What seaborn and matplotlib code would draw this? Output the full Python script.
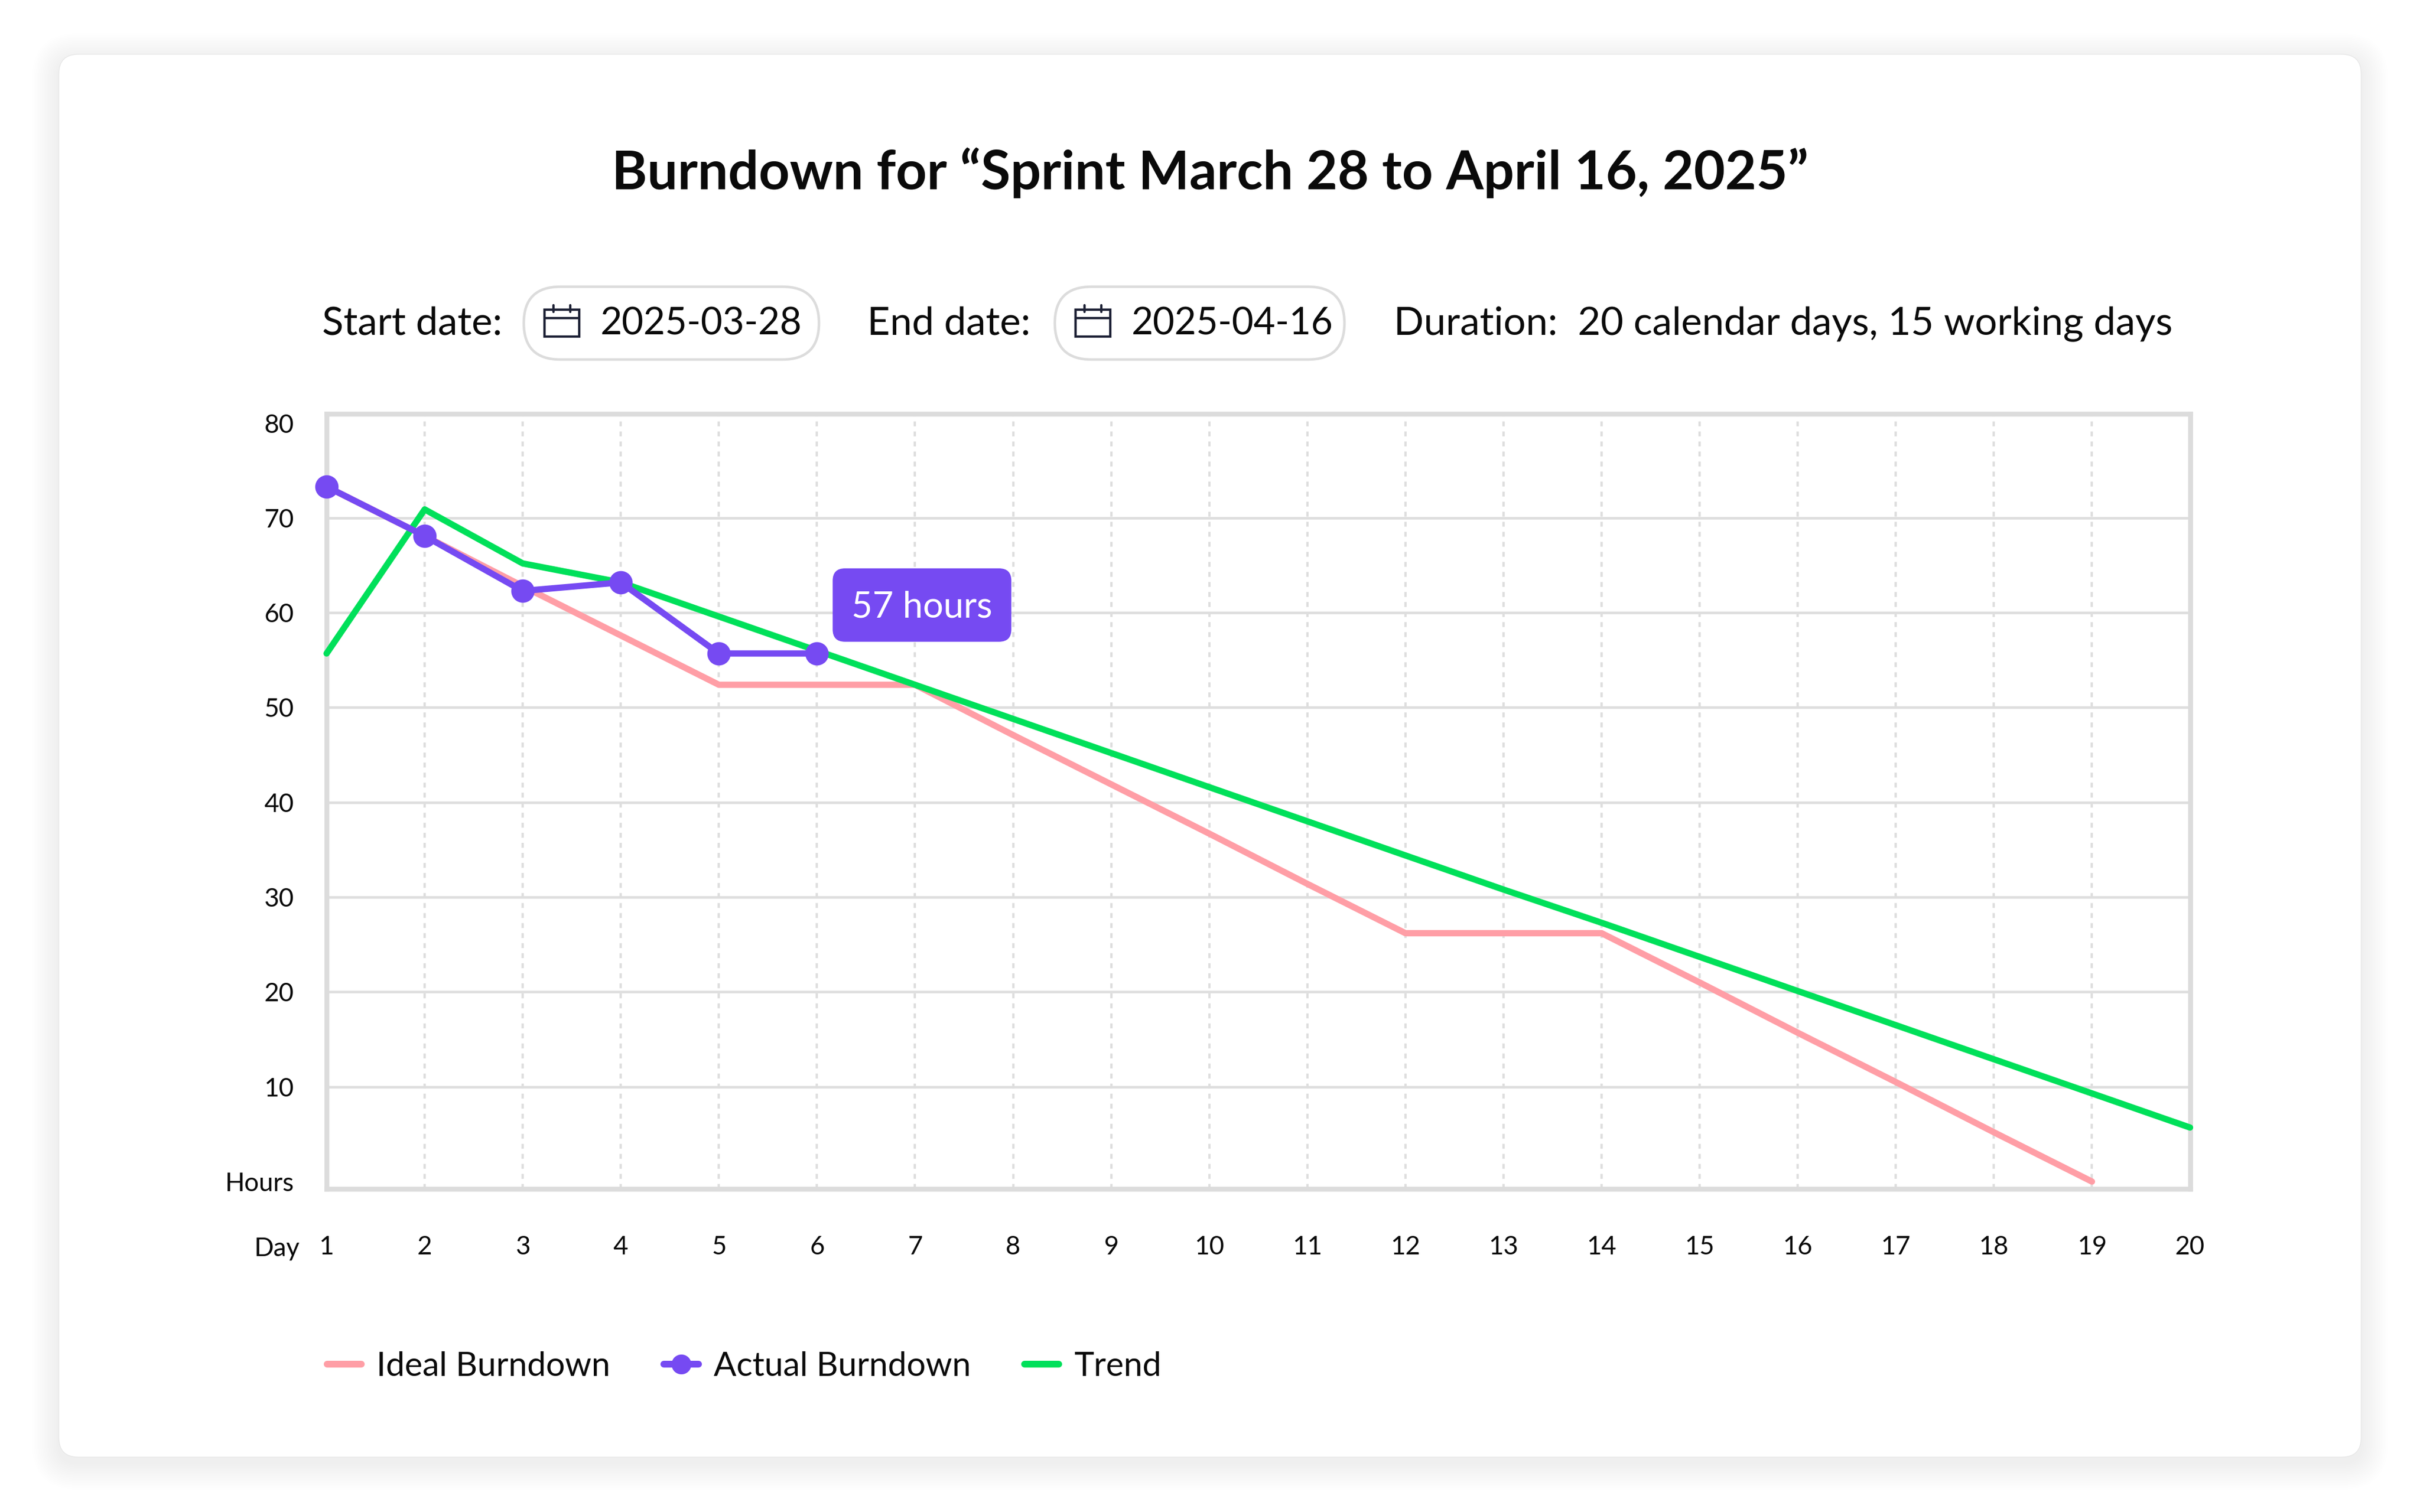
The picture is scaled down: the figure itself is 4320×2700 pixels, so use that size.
import numpy as np
import pandas as pd
import seaborn as sns
import matplotlib.pyplot as plt
from matplotlib.patches import FancyBboxPatch, Rectangle
from matplotlib.lines import Line2D

# ---------------- data ----------------
days = list(range(1, 21))
ideal_days = list(range(1, 20))
ideal_hours = [73.3, 68.1, 62.8, 57.6, 52.4, 52.4, 52.4, 47.1, 41.9, 36.7,
               31.4, 26.2, 26.2, 26.2, 21.0, 15.7, 10.5, 5.2, 0.0]
actual_days = [1, 2, 3, 4, 5, 6]
actual_hours = [73.3, 68.1, 62.3, 63.2, 55.7, 55.7]
trend_days = list(range(1, 21))
trend_hours = [55.7, 70.9, 65.2, 63.2, 59.6, 56.0, 52.4, 48.8, 45.2, 41.6,
               38.0, 34.4, 30.8, 27.3, 23.7, 20.1, 16.5, 12.9, 9.3, 5.7]
y_ticks = [0, 10, 20, 30, 40, 50, 60, 70, 80]
y_tick_labels = ["Hours", "10", "20", "30", "40", "50", "60", "70", "80"]
x_tick_labels = [str(d) for d in days]
series_names = ["Ideal Burndown", "Actual Burndown", "Trend"]
title_text = "Burndown for \u201cSprint March 28 to April 16, 2025\u201d"
start_label = "Start date:"
start_date = "2025-03-28"
end_label = "End date:"
end_date = "2025-04-16"
duration_text = "Duration:  20 calendar days, 15 working days"
tooltip_text = "57 hours"

# ---------------- style ----------------
PINK = "#ff9ea6"
PURPLE = "#764af2"
GREEN = "#00e05a"
GRID = "#dedede"
FRAME = "#dcdcdc"
TEXT = "#0a0a0a"
ICON = "#1e2236"

sns.set_theme(style="white")
plt.rcParams["font.family"] = ["Lato", "DejaVu Sans"]

W, H = 4320, 2700
fig = plt.figure(figsize=(14.4, 9), dpi=300)
fig.patch.set_facecolor("white")

# background overlay in pixel coordinates
bg = fig.add_axes([0, 0, 1, 1], zorder=0)
bg.set_xlim(0, W)
bg.set_ylim(H, 0)
bg.axis("off")

# card shadow + card
cx0, cy0, cx1, cy1 = 105, 97, 4215, 2602
for i in range(16, 0, -1):
    e = i * 3.0
    bg.add_patch(FancyBboxPatch((cx0 - e, cy0 - e + 10), (cx1 - cx0) + 2 * e, (cy1 - cy0) + 2 * e,
                                boxstyle=f"round,pad=0,rounding_size={35 + e}",
                                fc="black", ec="none", alpha=0.0045))
bg.add_patch(FancyBboxPatch((cx0, cy0), cx1 - cx0, cy1 - cy0,
                            boxstyle="round,pad=0,rounding_size=35",
                            fc="white", ec="#e6e6e6", lw=0.3))

# title
bg.text(W / 2, 338, title_text, ha="center", va="baseline", fontsize=23.1,
        fontweight="bold", color=TEXT)

# date row
base_y = 598
FS_ROW = 16.9
FS_DATE = 16.1
bg.text(575, base_y, start_label, ha="left", va="baseline", fontsize=FS_ROW, color=TEXT)
bg.text(1548, base_y, end_label, ha="left", va="baseline", fontsize=FS_ROW, color=TEXT)
bg.text(2488, base_y, duration_text, ha="left", va="baseline", fontsize=FS_ROW, color=TEXT)


def pill(x0, width, text):
    bg.add_patch(FancyBboxPatch((x0, 512), width, 130,
                                boxstyle="round,pad=0,rounding_size=65",
                                fc="white", ec=FRAME, lw=1.1))
    ix = x0 + 37
    bg.add_patch(Rectangle((ix, 553), 62, 48, fc="none", ec=ICON, lw=1.0))
    bg.plot([ix, ix + 62], [568, 568], color=ICON, lw=1.0)
    for tx in (ix + 16, ix + 46):
        bg.plot([tx, tx], [545, 557], color=ICON, lw=1.0)
    bg.text(x0 + 137, base_y, text, ha="left", va="baseline", fontsize=FS_DATE, color=TEXT)


pill(935, 527, start_date)
pill(1883, 517, end_date)

# ---------------- main chart ----------------
ax = fig.add_axes([583 / W, 1 - 2123 / H, (3909.5 - 583) / W, (2123 - 739.3) / H], zorder=2)
ax.set_facecolor("white")
ax.set_xlim(1, 20)
ax.set_ylim(-0.77, 80.96)

for yv in y_ticks[1:-1]:
    ax.axhline(yv, color=GRID, lw=1.1, zorder=1)
for d in days[1:-1]:
    ax.axvline(d, color=GRID, lw=1.0, dashes=(2.1, 2.2), zorder=1)

LW = 2.7
sns.lineplot(x=ideal_days, y=ideal_hours, ax=ax, color=PINK, lw=LW,
             clip_on=False, zorder=3, legend=False)
sns.lineplot(x=trend_days, y=trend_hours, ax=ax, color=GREEN, lw=LW,
             clip_on=False, zorder=4, legend=False)
sns.lineplot(x=actual_days, y=actual_hours, ax=ax, color=PURPLE, lw=LW,
             marker="o", markersize=10, markeredgewidth=0,
             clip_on=False, zorder=5, legend=False)

ax.set_xticks(days)
ax.set_xticklabels(x_tick_labels)
ax.set_yticks(y_ticks)
ax.set_yticklabels(y_tick_labels)
ax.tick_params(axis="x", length=0, pad=20, labelsize=11, labelcolor=TEXT)
ax.tick_params(axis="y", length=0, pad=14, labelsize=11, labelcolor=TEXT)
ax.set_xlabel("")
ax.set_ylabel("")
for s in ax.spines.values():
    s.set_visible(True)
    s.set_color(FRAME)
    s.set_linewidth(2.1)
    s.set_zorder(2)

# "Day" label next to x tick labels
bg.text(495, 2230, "Day", ha="center", va="center", fontsize=11, color=TEXT)

# tooltip anchored to the last actual point
px, py = ax.transData.transform((actual_days[-1], actual_hours[-1]))
py = H - py
bx, by = px + 187.5, py - 86.5
tip = FancyBboxPatch((bx - 159.5, by - 65.5), 319, 131,
                     boxstyle="round,pad=0,rounding_size=22",
                     fc=PURPLE, ec="none", zorder=10)
ov = fig.add_axes([0, 0, 1, 1], zorder=5)
ov.set_xlim(0, W)
ov.set_ylim(H, 0)
ov.axis("off")
ov.add_patch(tip)
ov.text(bx, by + 22, tooltip_text, ha="center", va="baseline", fontsize=15.5,
        color="white", zorder=11)

# legend
handles = [
    Line2D([], [], color=PINK, lw=2.9),
    Line2D([], [], color=PURPLE, lw=2.9, marker="o", markersize=8.5, markeredgewidth=0),
    Line2D([], [], color=GREEN, lw=2.9),
]
leg = fig.legend(handles, series_names, loc="center left",
                 bbox_to_anchor=(584 / W, 1 - 2440 / H), ncol=3, frameon=False,
                 fontsize=14.4, handlelength=1.02, handletextpad=0.45,
                 columnspacing=1.6, borderpad=0, borderaxespad=0)
for t in leg.get_texts():
    t.set_color(TEXT)

fig.savefig("out.png", dpi=300, facecolor="white")
